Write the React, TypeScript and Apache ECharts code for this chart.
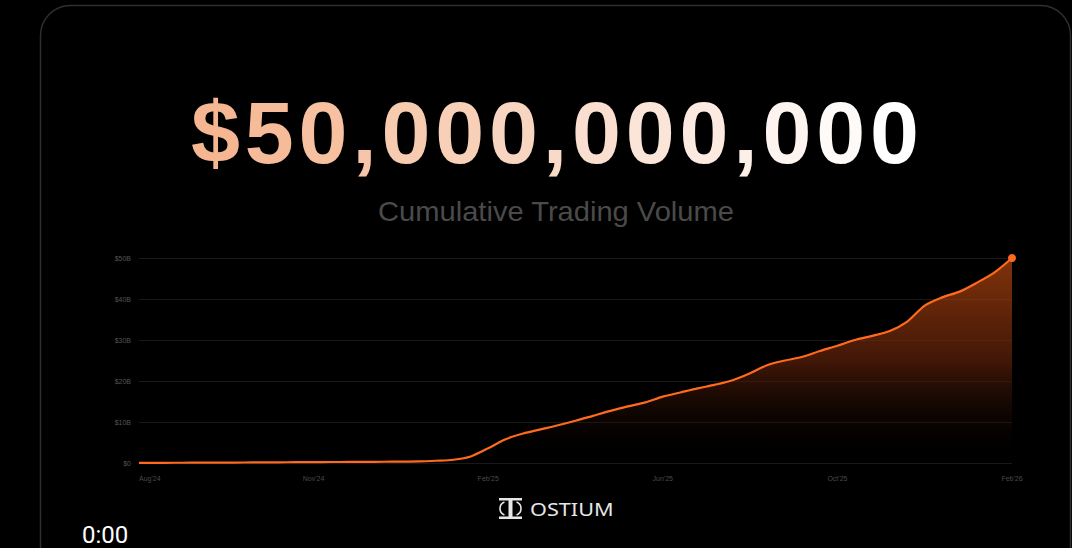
import React, { useEffect, useRef } from "react";
import * as echarts from "echarts";

const xLabels = ["Aug'24", "Nov'24", "Feb'25", "Jun'25", "Oct'25", "Feb'26"];
const volumeB = [
  0.05, 0.05, 0.06, 0.07, 0.08, 0.1, 0.12, 0.14, 0.17, 0.2,
  0.22, 0.24, 0.26, 0.28, 0.3, 0.33, 0.38, 0.55, 0.8, 1.6,
  3.6, 5.8, 7.2, 8.2, 9.2, 10.3, 11.5, 12.7, 13.8, 14.8,
  16.2, 17.2, 18.2, 19.1, 20.2, 21.9, 23.9, 25.0, 25.9, 27.3,
  28.6, 30.0, 31.0, 32.2, 34.5, 38.4, 40.4, 41.8, 44.0, 46.5,
  50.0,
];
const headline = "$50,000,000,000";
const subtitle = "Cumulative Trading Volume";
const brand = "OSTIUM";
const timer = "0:00";

function mix(a: number[], b: number[], t: number) {
  const c = a.map((v, i) => Math.round(v + (b[i] - v) * t));
  return `rgb(${c[0]},${c[1]},${c[2]})`;
}

export default function App() {
  const ref = useRef<HTMLDivElement>(null);
  useEffect(() => {
    document.body.style.margin = "0";
    document.body.style.background = "#000";
    const chart = echarts.init(ref.current!, null, { renderer: "svg" });
    const last = volumeB.length - 1;

    const start = [245, 182, 145];
    const mid = [249, 218, 200];
    const end = [255, 255, 255];
    const chars = headline.split("");
    const rich: Record<string, any> = {};
    const parts = chars.map((ch, i) => {
      const t = i / (chars.length - 1);
      const col = t < 0.5 ? mix(start, mid, t / 0.5) : mix(mid, end, (t - 0.5) / 0.5);
      rich["c" + i] = {
        fill: col,
        fontSize: 88,
        fontWeight: "bold",
        fontFamily: "Liberation Sans",
        padding: [0, 2.4, 0, 2.4],
      };
      return `{c${i}|${ch}}`;
    });

    chart.setOption({
      animation: false,
      backgroundColor: "#000",
      grid: { left: 139, right: 60, top: 258, bottom: 85 },
      xAxis: {
        type: "value",
        min: 0,
        max: last,
        interval: 10,
        axisLine: { show: false },
        axisTick: { show: false },
        splitLine: { show: false },
        axisLabel: {
          formatter: (v: number) => xLabels[Math.round(v / 10)] ?? "",
          color: "#4a4a4a",
          fontSize: 7,
          fontFamily: "Liberation Sans",
          margin: 12,
          alignMinLabel: "left",
        },
      },
      yAxis: {
        type: "value",
        min: 0,
        max: 50,
        interval: 10,
        axisLine: { show: false },
        axisTick: { show: false },
        splitLine: { lineStyle: { color: "#191919", width: 1 } },
        axisLabel: {
          formatter: (v: number) => (v === 0 ? "$0" : `$${v}B`),
          color: "#555",
          fontSize: 7,
          fontFamily: "Liberation Sans",
          margin: 8,
        },
      },
      series: [
        {
          type: "line",
          smooth: 0.3,
          data: volumeB.map((v, i) => [i, v]),
          showSymbol: true,
          symbol: (_v: any, p: any) => (p.dataIndex === last ? "circle" : "none"),
          symbolSize: 8,
          lineStyle: { color: "#ff6a1f", width: 2.2 },
          itemStyle: { color: "#ff6a1f" },
          areaStyle: {
            color: new echarts.graphic.LinearGradient(0, 0, 0, 1, [
              { offset: 0, color: "#b8480f" },
              { offset: 0.5, color: "#5e210a" },
              { offset: 1, color: "rgba(0,0,0,0)" },
            ]),
          },
        },
      ],
      graphic: [
        {
          type: "rect",
          z: -10,
          shape: { x: 40.5, y: 5.5, width: 1030, height: 640, r: 30 },
          style: { fill: "#000", stroke: "#2e2e2e", lineWidth: 1.5 },
        },
        {
          type: "text",
          x: 555,
          y: 132,
          style: {
            text: parts.join(""),
            rich,
            textAlign: "center",
            textVerticalAlign: "middle",
            align: "center",
            verticalAlign: "middle",
          },
        },
        {
          type: "text",
          x: 556,
          y: 211,
          scaleX: 1.04,
          style: {
            text: subtitle,
            font: '28px "Liberation Sans"',
            fill: "#4a4a4a",
            textAlign: "center",
            textVerticalAlign: "middle",
            align: "center",
            verticalAlign: "middle",
          },
        },
        {
          type: "group",
          children: [
            { type: "rect", shape: { x: 499, y: 498, width: 23, height: 2.5 }, style: { fill: "#e6e6e6" } },
            { type: "rect", shape: { x: 499, y: 516.5, width: 23, height: 2.5 }, style: { fill: "#e6e6e6" } },
            { type: "rect", shape: { x: 508.5, y: 498, width: 4, height: 21 }, style: { fill: "#e6e6e6" } },
            {
              type: "arc",
              shape: { cx: 507, cy: 508.5, r: 7, startAngle: Math.PI * 0.62, endAngle: Math.PI * 1.38 },
              style: { stroke: "#e6e6e6", lineWidth: 1.6, fill: "none" },
            },
            {
              type: "arc",
              shape: { cx: 514, cy: 508.5, r: 7, startAngle: -Math.PI * 0.38, endAngle: Math.PI * 0.38 },
              style: { stroke: "#e6e6e6", lineWidth: 1.6, fill: "none" },
            },
          ],
        },
        {
          type: "text",
          x: 530,
          y: 509,
          scaleX: 1.14,
          style: {
            text: brand,
            font: '19px "Noto Sans"',
            fill: "#e6e6e6",
            textAlign: "left",
            textVerticalAlign: "middle",
            align: "left",
            verticalAlign: "middle",
          },
        },
        {
          type: "text",
          x: 82,
          y: 535,
          style: {
            text: timer,
            font: "24px Roboto",
            fill: "#ffffff",
            textAlign: "left",
            textVerticalAlign: "middle",
            align: "left",
            verticalAlign: "middle",
          },
        },
      ],
    });
    return () => chart.dispose();
  }, []);
  return (
    <div
      ref={ref}
      style={{ position: "absolute", left: 0, top: 0, width: 1072, height: 548, background: "#000" }}
    />
  );
}
